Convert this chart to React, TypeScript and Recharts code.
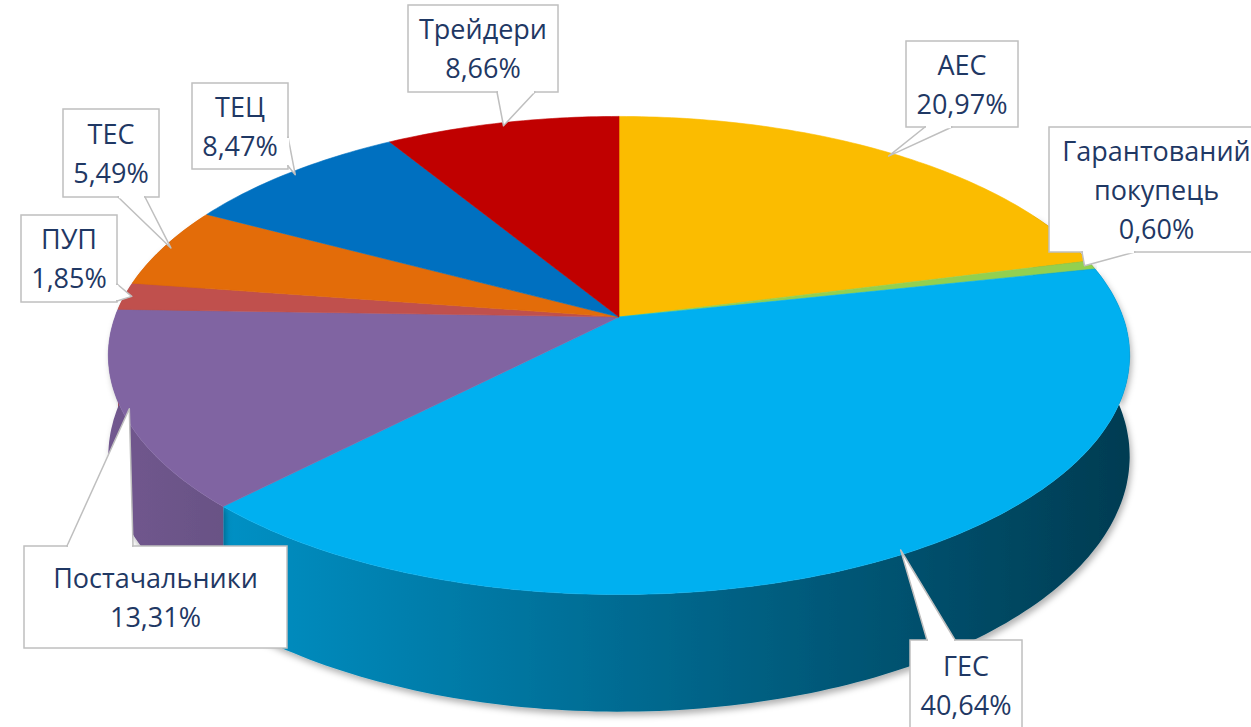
import React from 'react';
import { PieChart, Pie, Cell } from 'recharts';

const categories = ['АЕС', 'Гарантований покупець', 'ГЕС', 'Постачальники', 'ПУП', 'ТЕС', 'ТЕЦ', 'Трейдери'];
const shares = [20.97, 0.6, 40.64, 13.31, 1.85, 5.49, 8.47, 8.66];
const colors = ['#fbbc00', '#92d050', '#00b0f0', '#8064a2', '#c0504d', '#e36c09', '#0070c0', '#c00000'];

// callout boxes were placed by hand in the original, so keep them by hand here
const callouts = [
  { box: [906, 41, 112, 86], base: [925, 127, 952, 127] },
  { box: [1049, 127, 215, 125], base: [1082, 252, 1135, 252] },
  { box: [910, 640, 112, 90], base: [927, 640, 955, 640] },
  { box: [24, 546, 263, 102], base: [67, 546, 133, 546] },
  { box: [21, 215, 96, 87], base: [117, 284, 117, 301] },
  { box: [63, 109, 96, 88], base: [118, 197, 145, 197] },
  { box: [192, 83, 96, 86], base: [288, 137, 288, 166] },
  { box: [408, 5, 150, 87], base: [497, 92, 535, 92] },
];

const data = categories.map((name, i) => ({ name, value: shares[i] }));

const TILT = 0.462; // vertical / horizontal radius
const PERSP = 0.161; // how much the near edge grows
const DEPTH = 0.195; // side wall height / radius
const TEXT = '#1f3864';
const BORDER = '#bfbfbf';

const shade = (hex: string, f: number) => {
  const n = parseInt(hex.slice(1), 16);
  const c = [(n >> 16) & 255, (n >> 8) & 255, n & 255].map((v) => Math.round(v * f));
  return `rgb(${c[0]},${c[1]},${c[2]})`;
};

// theta: degrees clockwise from 12 o'clock
const project = (cx: number, cy: number, r: number, theta: number, drop = 0) => {
  const t = (theta * Math.PI) / 180;
  const z = -Math.cos(t);
  const d = 1 - PERSP * z;
  return [cx + (r * Math.sin(t)) / d, cy + (r * TILT * z + drop) / d];
};

const arc = (cx: number, cy: number, r: number, a: number, b: number, drop = 0) => {
  const pts: number[][] = [];
  const steps = Math.max(2, Math.ceil(Math.abs(b - a)));
  for (let i = 0; i <= steps; i++) pts.push(project(cx, cy, r, a + ((b - a) * i) / steps, drop));
  return pts;
};

const toPath = (pts: number[][]) => pts.map((p, i) => `${i ? 'L' : 'M'}${p[0].toFixed(1)},${p[1].toFixed(1)}`).join('') + 'Z';

const renderSide = (props: any) => {
  const { cx, cy, outerRadius, startAngle, endAngle, index } = props;
  const a = Math.max(90 - startAngle, 62);
  const b = Math.min(90 - endAngle, 298);
  if (a >= b) return <g />;
  const pts = [...arc(cx, cy, outerRadius, a, b), ...arc(cx, cy, outerRadius, b, a, outerRadius * DEPTH)];
  return <path d={toPath(pts)} fill={`url(#side-${index})`} stroke="none" filter="url(#pieShadow)" />;
};

const renderTop = (props: any) => {
  const { cx, cy, outerRadius, startAngle, endAngle, index } = props;
  const color = colors[index];
  const top = [[cx, cy], ...arc(cx, cy, outerRadius, 90 - startAngle, 90 - endAngle)];
  return <path d={toPath(top)} fill={color} stroke={color} strokeWidth={0.6} />;
};

const renderCallout = (props: any) => {
  const { cx, cy, outerRadius, startAngle, endAngle, index, value } = props;
  const mid = 90 - (startAngle + endAngle) / 2;
  const tip = project(cx, cy, outerRadius * 0.985, mid);
  const { box, base } = callouts[index];
  const [x, y, w, h] = box;
  const lines = [...categories[index].split(' '), `${value.toFixed(2).replace('.', ',')}%`];
  const lineH = 39;
  const mY = y + h / 2;
  const sx = base[2] > base[0] ? 1 : 0;
  const sy = base[3] > base[1] ? 1 : 0;
  return (
    <g>
      <rect x={x} y={y} width={w} height={h} fill="#fff" stroke={BORDER} strokeWidth={1.5} />
      <polygon points={`${base[0]},${base[1]} ${tip[0]},${tip[1]} ${base[2]},${base[3]}`} fill="#fff" stroke={BORDER} strokeWidth={1.5} strokeLinejoin="round" />
      <line x1={base[0] + sx} y1={base[1] + sy} x2={base[2] - sx} y2={base[3] - sy} stroke="#fff" strokeWidth={2.5} />
      {lines.map((s, i) => (
        <text key={i} x={x + w / 2} y={mY + 10 + (i - (lines.length - 1) / 2) * lineH} textAnchor="middle" fill={TEXT} fontSize={27} fontFamily="'Open Sans', sans-serif">
          {s}
        </text>
      ))}
    </g>
  );
};

const pieProps = {
  data,
  dataKey: 'value',
  nameKey: 'name',
  cx: 619,
  cy: 317,
  outerRadius: 504,
  startAngle: 90,
  endAngle: -270,
  isAnimationActive: false,
  labelLine: false,
};

export default function App() {
  return (
    <div style={{ position: 'absolute', left: 0, top: 0, width: 1251, height: 727, background: '#fff' }}>
      <PieChart width={1251} height={727} margin={{ top: 0, right: 0, bottom: 0, left: 0 }}>
        <defs>
          {colors.map((c, i) => (
            <linearGradient key={i} id={`side-${i}`} gradientUnits="userSpaceOnUse" x1={108} y1={0} x2={1130} y2={0}>
              <stop offset="0%" stopColor={shade(c, 0.88)} />
              <stop offset="100%" stopColor={shade(c, 0.34)} />
            </linearGradient>
          ))}
          <filter id="pieShadow" x="-10%" y="-10%" width="130%" height="140%">
            <feDropShadow dx={2} dy={4} stdDeviation={3} floodColor="#000" floodOpacity={0.3} />
          </filter>
        </defs>
        {/* side walls first, then the top faces, then the callouts */}
        <Pie {...pieProps} label={renderSide}>
          {data.map((d) => (
            <Cell key={d.name} fill="none" stroke="none" />
          ))}
        </Pie>
        <Pie {...pieProps} label={renderTop}>
          {data.map((d) => (
            <Cell key={d.name} fill="none" stroke="none" />
          ))}
        </Pie>
        <Pie {...pieProps} label={renderCallout}>
          {data.map((d) => (
            <Cell key={d.name} fill="none" stroke="none" />
          ))}
        </Pie>
      </PieChart>
    </div>
  );
}
